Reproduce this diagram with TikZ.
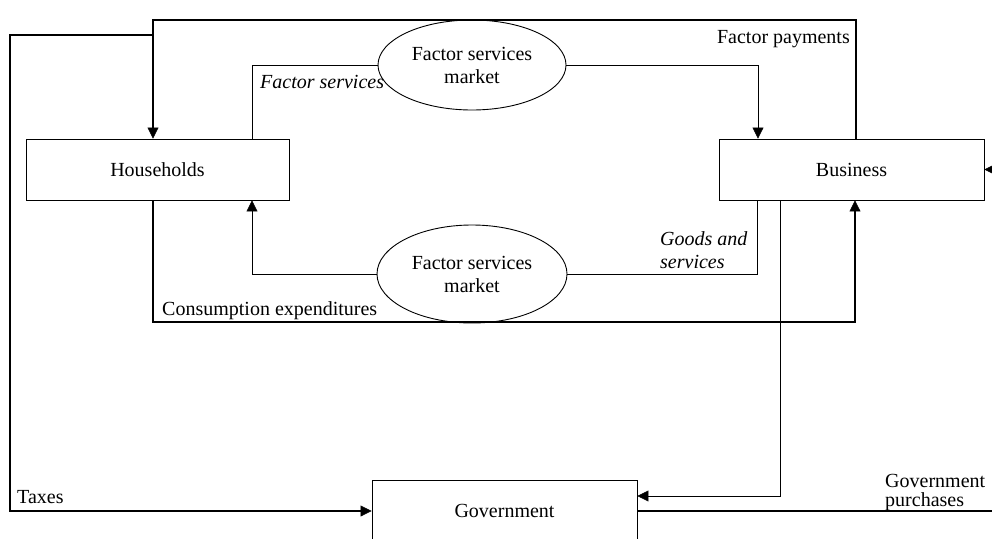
\documentclass[tikz,border=0pt]{standalone}
\usepackage{fontspec}
\setmainfont{Liberation Serif}
\usetikzlibrary{arrows.meta,shapes.geometric}
\newcommand{\fsz}{\fontsize{20}{23}\selectfont}
\begin{document}
\begin{tikzpicture}[x=1pt,y=-1pt,
  box/.style={draw, line width=0.8pt, minimum width=263pt, minimum height=61pt, inner sep=0pt, font=\fsz},
  mkt/.style={ellipse, draw, line width=0.9pt, minimum width=188pt, minimum height=90pt, inner sep=0pt, align=center, font=\fsz},
  lbl/.style={inner sep=0pt, font=\fsz},
  ilbl/.style={inner sep=0pt, font=\fsz\itshape},
  thickflow/.style={line width=2.6pt},
  thinflow/.style={line width=0.8pt},
  tip/.style={-{Triangle[length=11pt,width=11pt,line width=0.4pt]}},
]
\useasboundingbox (0,0) rectangle (992,538);
\fill[white] (0,0) rectangle (992,538);

% nodes
\node[box] (hh) at (157.5,169.5) {Households};
\node[box, minimum width=265pt] (bus) at (851.5,169.5) {Business};
\node[box, minimum width=265pt] (gov) at (504.5,511) {Government};
\node[mkt] (fsm1) at (472,65) {Factor services\\market};
\node[mkt, minimum height=98pt, minimum width=190pt] (fsm2) at (472,274) {Factor services\\market};

% junction / corner coordinates
\coordinate (j1) at (153,35);
\coordinate (c1) at (153,20);
\coordinate (c2) at (855,322);
\coordinate (c3) at (10,511);
\coordinate (re) at (996,169.5);
\coordinate (pe) at (992,511);

% factor payments (thick, top)
\draw[thickflow, tip] ([xshift=4.5pt]bus.north) |- (c1) -- ([xshift=-4.5pt]hh.north);
% taxes (thick, left)
\draw[thickflow, tip] (j1) -| (c3) -- (gov.west);
% factor services (thin)
\draw[thinflow] ([xshift=94.5pt]hh.north) |- (fsm1.west);
\draw[thinflow, tip] (fsm1.east) -| ([xshift=-93.5pt]bus.north);
% consumption expenditures (thick, bottom)
\draw[thickflow, tip] ([xshift=-4.5pt]hh.south) |- (c2) -- ([xshift=3.5pt]bus.south);
% goods and services (thin)
\draw[thinflow] ([xshift=-94.5pt]bus.south) |- (fsm2.east);
\draw[thinflow, tip] (fsm2.west) -| ([xshift=94.5pt]hh.south);
% business to government (thin)
\draw[thinflow, tip] ([xshift=-71.5pt]bus.south) |- ([yshift=15pt]gov.east);
% government purchases (thick)
\draw[thickflow] (gov.east) -- (pe);
% incoming arrow at business right
\draw[thinflow, tip] (re) -- (bus.east);

% labels
\node[ilbl, anchor=base west] (lfs) at (260,88) {Factor services};
\node[lbl, anchor=base east] (lfp) at (850,43) {Factor payments};
\node[lbl, anchor=base west] (lce) at (162,315) {Consumption expenditures};
\node[ilbl, anchor=base west] (lgs1) at (660,245) {Goods and};
\node[ilbl, anchor=base west] (lgs2) at (660,268) {services};
\node[lbl, anchor=base west] (ltx) at (17,503) {Taxes};
\node[lbl, anchor=base west] (lgp1) at (885,487) {Government};
\node[lbl, anchor=base west] (lgp2) at (885,506) {purchases};
\end{tikzpicture}
\end{document}
